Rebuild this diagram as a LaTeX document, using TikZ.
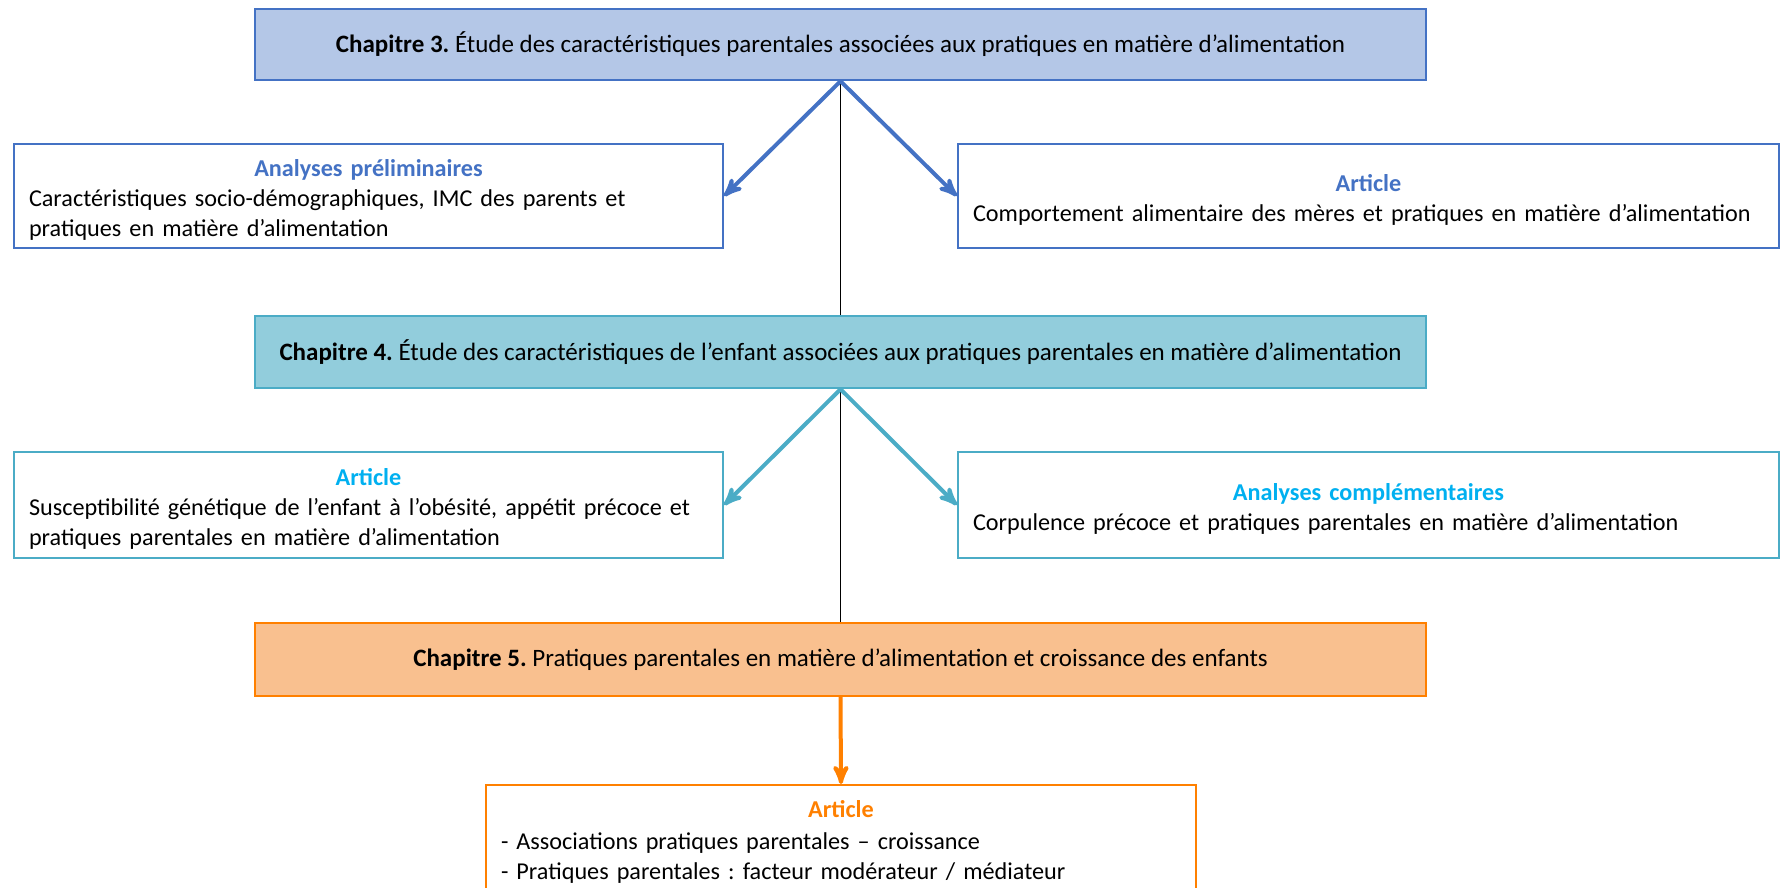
\documentclass[tikz,border=0pt]{standalone}
\usepackage{fontspec}
\setmainfont{Carlito}
\usepackage{tikz}
\usetikzlibrary{arrows}
\usetikzlibrary{positioning}

\definecolor{bluefill}{HTML}{B4C7E7}
\definecolor{blueline}{HTML}{4472C4}
\definecolor{aquafill}{HTML}{92CDDC}
\definecolor{aqualine}{HTML}{4BACC6}
\definecolor{aquatitle}{HTML}{00B0F0}
\definecolor{orangefill}{HTML}{F9C08F}
\definecolor{orangeline}{HTML}{FF8000}

\newcommand{\boxtitle}[2]{\makebox[\hsize]{\rule{0pt}{12.5pt}\textcolor{#1}{\bfseries #2}}}

\begin{document}
\begin{tikzpicture}[x=0.5pt,y=-0.5pt,>=stealth',
                    every node/.style={font=\fontsize{12.1}{14.8}\selectfont\frenchspacing},
                    chap node/.style={rectangle,draw,line width=1.2pt,minimum width=585.5pt,align=center,
                                      font=\fontsize{12.5}{15}\selectfont\frenchspacing},
                    sub node/.style={rectangle,draw,line width=1.2pt,fill=white,align=left,inner xsep=7.5pt}]

  \useasboundingbox (0,0) rectangle (1782,888);

  \node[chap node,fill=bluefill,draw=blueline,minimum height=35.5pt] (ch3) at (840.5,44.5)
    {\textbf{Chapitre 3.} Étude des caractéristiques parentales associées aux pratiques en matière d’alimentation};
  \node[sub node,draw=blueline,text width=339.5pt,minimum height=52pt] (prelim) at (368.5,196)
    {\boxtitle{blueline}{Analyses préliminaires}\\
     Caractéristiques socio-démographiques, IMC des parents et\\
     pratiques en matière d’alimentation};
  \node[sub node,draw=blueline,text width=395.5pt,minimum height=52pt] (mothers) at (1368.5,196)
    {\boxtitle{blueline}{Article}\\
     Comportement alimentaire des mères et pratiques en matière d’alimentation};

  \node[chap node,fill=aquafill,draw=aqualine,minimum height=36pt] (ch4) at (840.5,352)
    {\textbf{Chapitre 4.} Étude des caractéristiques de l’enfant associées aux pratiques parentales en matière d’alimentation};
  \node[sub node,draw=aqualine,text width=339.5pt,minimum height=53pt] (genetic) at (368.5,505)
    {\boxtitle{aquatitle}{Article}\\
     Susceptibilité génétique de l’enfant à l’obésité, appétit précoce et\\
     pratiques parentales en matière d’alimentation};
  \node[sub node,draw=aqualine,text width=395.5pt,minimum height=53pt] (corpulence) at (1368.5,505)
    {\boxtitle{aquatitle}{Analyses complémentaires}\\
     Corpulence précoce et pratiques parentales en matière d’alimentation};

  \node[chap node,fill=orangefill,draw=orangeline,minimum height=36.5pt] (ch5) at (840.5,659.5)
    {\textbf{Chapitre 5.} Pratiques parentales en matière d’alimentation et croissance des enfants};
  \node[sub node,draw=orangeline,text width=340pt,inner ysep=3.5pt,anchor=north] (growth) at (841,784)
    {\boxtitle{orangeline}{Article}\\[1.5pt]
     - Associations pratiques parentales -- croissance\\
     - Pratiques parentales : facteur modérateur / médiateur\rule[-30pt]{0pt}{0pt}};

  % connectors
  \draw[black,line width=0.5pt] (ch3.south) -- (ch4.north);
  \draw[black,line width=0.5pt] (ch4.south) -- (ch5.north);
  \path[->,line width=2pt]
    (ch3.south) edge[blueline] (prelim.east)
                edge[blueline] (mothers.west)
    (ch4.south) edge[aqualine] (genetic.east)
                edge[aqualine] (corpulence.west)
    (ch5.south) edge[orangeline] (growth.north);
\end{tikzpicture}
\end{document}
